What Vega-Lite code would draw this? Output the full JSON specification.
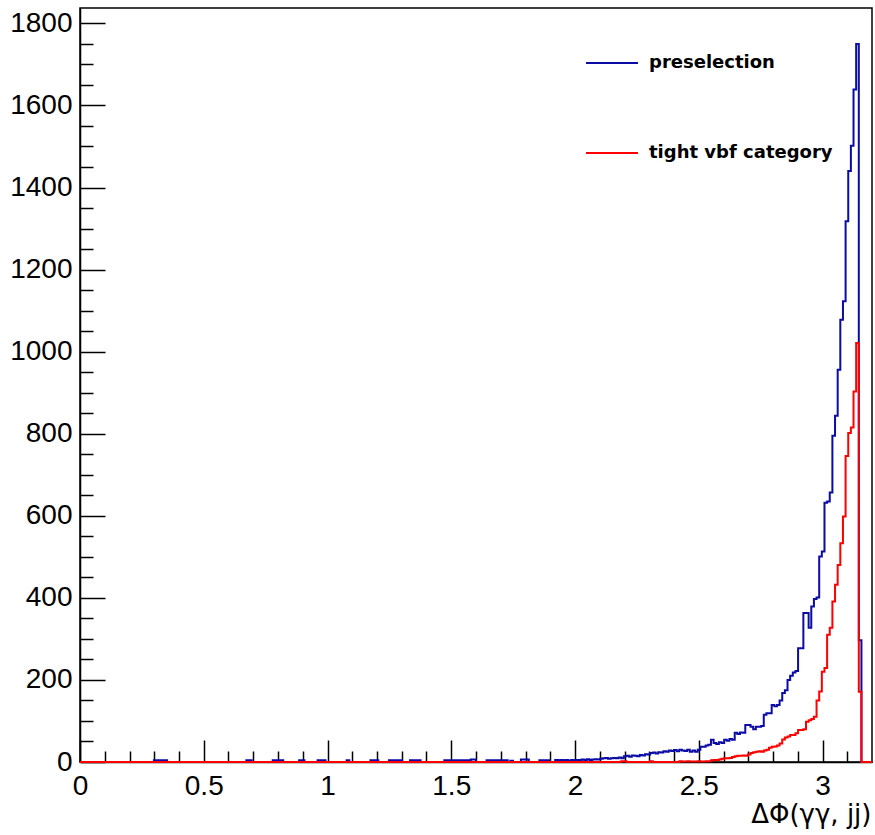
{
  "$schema": "https://vega.github.io/schema/vega-lite/v6.json",
  "width": 792,
  "height": 754,
  "autosize": {"type": "none"},
  "padding": {"left": 80, "top": 8, "right": 3, "bottom": 73},
  "background": "white",
  "config": {
    "view": {"stroke": "#000000", "strokeWidth": 1.5},
    "axis": {"domainColor": "#000000", "domainWidth": 1.5, "tickColor": "#000000", "tickWidth": 1.5, "labelColor": "#000000", "titleColor": "#000000", "grid": false}
  },
  "data": {"values": [
    {"dphi": 0, "preselection": 0, "tight vbf category": 0},
    {"dphi": 0.29867, "preselection": 4, "tight vbf category": 0},
    {"dphi": 0.352, "preselection": 0, "tight vbf category": 0},
    {"dphi": 0.672, "preselection": 4, "tight vbf category": 0},
    {"dphi": 0.69333, "preselection": 0, "tight vbf category": 0},
    {"dphi": 0.77867, "preselection": 4, "tight vbf category": 0},
    {"dphi": 0.82133, "preselection": 0, "tight vbf category": 0},
    {"dphi": 0.88533, "preselection": 4, "tight vbf category": 0},
    {"dphi": 0.90667, "preselection": 0, "tight vbf category": 0},
    {"dphi": 0.96, "preselection": 4, "tight vbf category": 0},
    {"dphi": 0.992, "preselection": 0, "tight vbf category": 0},
    {"dphi": 1.07733, "preselection": 4, "tight vbf category": 0},
    {"dphi": 1.088, "preselection": 0, "tight vbf category": 0},
    {"dphi": 1.17333, "preselection": 4, "tight vbf category": 0},
    {"dphi": 1.20533, "preselection": 0, "tight vbf category": 0},
    {"dphi": 1.248, "preselection": 4, "tight vbf category": 0},
    {"dphi": 1.30133, "preselection": 0, "tight vbf category": 0},
    {"dphi": 1.33333, "preselection": 4, "tight vbf category": 0},
    {"dphi": 1.376, "preselection": 0, "tight vbf category": 0},
    {"dphi": 1.472, "preselection": 4, "tight vbf category": 0},
    {"dphi": 1.57867, "preselection": 6, "tight vbf category": 0},
    {"dphi": 1.6, "preselection": 0, "tight vbf category": 0},
    {"dphi": 1.64267, "preselection": 4, "tight vbf category": 0},
    {"dphi": 1.728, "preselection": 0, "tight vbf category": 0},
    {"dphi": 1.73867, "preselection": 3, "tight vbf category": 0},
    {"dphi": 1.74933, "preselection": 0, "tight vbf category": 0},
    {"dphi": 1.78133, "preselection": 6, "tight vbf category": 0},
    {"dphi": 1.81333, "preselection": 0, "tight vbf category": 0},
    {"dphi": 1.856, "preselection": 4, "tight vbf category": 0},
    {"dphi": 1.89867, "preselection": 0, "tight vbf category": 0},
    {"dphi": 1.92, "preselection": 5, "tight vbf category": 0},
    {"dphi": 1.93067, "preselection": 4, "tight vbf category": 0},
    {"dphi": 1.94133, "preselection": 5, "tight vbf category": 0},
    {"dphi": 1.952, "preselection": 4, "tight vbf category": 0},
    {"dphi": 1.96267, "preselection": 5, "tight vbf category": 0},
    {"dphi": 1.97333, "preselection": 3, "tight vbf category": 0},
    {"dphi": 1.984, "preselection": 5, "tight vbf category": 0},
    {"dphi": 1.99467, "preselection": 4, "tight vbf category": 0},
    {"dphi": 2.00533, "preselection": 5, "tight vbf category": 0},
    {"dphi": 2.016, "preselection": 5, "tight vbf category": 0},
    {"dphi": 2.02667, "preselection": 6, "tight vbf category": 0},
    {"dphi": 2.03733, "preselection": 5, "tight vbf category": 0},
    {"dphi": 2.048, "preselection": 7, "tight vbf category": 0},
    {"dphi": 2.05867, "preselection": 5, "tight vbf category": 0},
    {"dphi": 2.06933, "preselection": 6, "tight vbf category": 0},
    {"dphi": 2.08, "preselection": 7, "tight vbf category": 0},
    {"dphi": 2.09067, "preselection": 6, "tight vbf category": 0},
    {"dphi": 2.10133, "preselection": 8, "tight vbf category": 0},
    {"dphi": 2.112, "preselection": 9, "tight vbf category": 0},
    {"dphi": 2.12267, "preselection": 10, "tight vbf category": 0},
    {"dphi": 2.13333, "preselection": 8, "tight vbf category": 0},
    {"dphi": 2.144, "preselection": 9, "tight vbf category": 0},
    {"dphi": 2.15467, "preselection": 10, "tight vbf category": 0},
    {"dphi": 2.16533, "preselection": 9, "tight vbf category": 0},
    {"dphi": 2.176, "preselection": 11, "tight vbf category": 0},
    {"dphi": 2.18667, "preselection": 9, "tight vbf category": 2},
    {"dphi": 2.19733, "preselection": 14, "tight vbf category": 2},
    {"dphi": 2.208, "preselection": 15, "tight vbf category": 0},
    {"dphi": 2.21867, "preselection": 13, "tight vbf category": 0},
    {"dphi": 2.22933, "preselection": 16, "tight vbf category": 0},
    {"dphi": 2.24, "preselection": 15, "tight vbf category": 0},
    {"dphi": 2.25067, "preselection": 14, "tight vbf category": 0},
    {"dphi": 2.26133, "preselection": 17, "tight vbf category": 0},
    {"dphi": 2.272, "preselection": 16, "tight vbf category": 0},
    {"dphi": 2.28267, "preselection": 19, "tight vbf category": 0},
    {"dphi": 2.29333, "preselection": 18, "tight vbf category": 0},
    {"dphi": 2.304, "preselection": 22, "tight vbf category": 2},
    {"dphi": 2.31467, "preselection": 23, "tight vbf category": 0},
    {"dphi": 2.32533, "preselection": 21, "tight vbf category": 0},
    {"dphi": 2.336, "preselection": 24, "tight vbf category": 0},
    {"dphi": 2.34667, "preselection": 23, "tight vbf category": 0},
    {"dphi": 2.35733, "preselection": 26, "tight vbf category": 0},
    {"dphi": 2.368, "preselection": 25, "tight vbf category": 0},
    {"dphi": 2.37867, "preselection": 28, "tight vbf category": 0},
    {"dphi": 2.38933, "preselection": 27, "tight vbf category": 0},
    {"dphi": 2.4, "preselection": 29, "tight vbf category": 0},
    {"dphi": 2.41067, "preselection": 26, "tight vbf category": 0},
    {"dphi": 2.42133, "preselection": 30, "tight vbf category": 2},
    {"dphi": 2.432, "preselection": 28, "tight vbf category": 1},
    {"dphi": 2.44267, "preselection": 27, "tight vbf category": 1},
    {"dphi": 2.45333, "preselection": 30, "tight vbf category": 2},
    {"dphi": 2.464, "preselection": 25, "tight vbf category": 1},
    {"dphi": 2.47467, "preselection": 28, "tight vbf category": 1},
    {"dphi": 2.48533, "preselection": 25, "tight vbf category": 1},
    {"dphi": 2.496, "preselection": 30, "tight vbf category": 2},
    {"dphi": 2.50667, "preselection": 37, "tight vbf category": 1},
    {"dphi": 2.51733, "preselection": 37, "tight vbf category": 1},
    {"dphi": 2.528, "preselection": 40, "tight vbf category": 2},
    {"dphi": 2.53867, "preselection": 42, "tight vbf category": 2},
    {"dphi": 2.54933, "preselection": 54, "tight vbf category": 4},
    {"dphi": 2.56, "preselection": 46, "tight vbf category": 5},
    {"dphi": 2.57067, "preselection": 44, "tight vbf category": 5},
    {"dphi": 2.58133, "preselection": 48, "tight vbf category": 6},
    {"dphi": 2.592, "preselection": 46, "tight vbf category": 8},
    {"dphi": 2.60267, "preselection": 54, "tight vbf category": 9},
    {"dphi": 2.61333, "preselection": 52, "tight vbf category": 9},
    {"dphi": 2.624, "preselection": 56, "tight vbf category": 10},
    {"dphi": 2.63467, "preselection": 54, "tight vbf category": 12},
    {"dphi": 2.64533, "preselection": 71, "tight vbf category": 14},
    {"dphi": 2.656, "preselection": 68, "tight vbf category": 15},
    {"dphi": 2.66667, "preselection": 72, "tight vbf category": 15},
    {"dphi": 2.67733, "preselection": 71, "tight vbf category": 16},
    {"dphi": 2.688, "preselection": 90, "tight vbf category": 15},
    {"dphi": 2.69867, "preselection": 90, "tight vbf category": 18},
    {"dphi": 2.70933, "preselection": 86, "tight vbf category": 22},
    {"dphi": 2.72, "preselection": 80, "tight vbf category": 24},
    {"dphi": 2.73067, "preselection": 86, "tight vbf category": 25},
    {"dphi": 2.74133, "preselection": 86, "tight vbf category": 26},
    {"dphi": 2.752, "preselection": 88, "tight vbf category": 25},
    {"dphi": 2.76267, "preselection": 115, "tight vbf category": 28},
    {"dphi": 2.77333, "preselection": 119, "tight vbf category": 30},
    {"dphi": 2.784, "preselection": 119, "tight vbf category": 35},
    {"dphi": 2.79467, "preselection": 139, "tight vbf category": 37},
    {"dphi": 2.80533, "preselection": 136, "tight vbf category": 38},
    {"dphi": 2.816, "preselection": 139, "tight vbf category": 40},
    {"dphi": 2.82667, "preselection": 150, "tight vbf category": 45},
    {"dphi": 2.83733, "preselection": 168, "tight vbf category": 55},
    {"dphi": 2.848, "preselection": 175, "tight vbf category": 60},
    {"dphi": 2.85867, "preselection": 200, "tight vbf category": 62},
    {"dphi": 2.86933, "preselection": 210, "tight vbf category": 66},
    {"dphi": 2.88, "preselection": 218, "tight vbf category": 66},
    {"dphi": 2.89067, "preselection": 222, "tight vbf category": 70},
    {"dphi": 2.90133, "preselection": 277, "tight vbf category": 78},
    {"dphi": 2.912, "preselection": 277, "tight vbf category": 78},
    {"dphi": 2.92267, "preselection": 363, "tight vbf category": 80},
    {"dphi": 2.93333, "preselection": 363, "tight vbf category": 98},
    {"dphi": 2.944, "preselection": 327, "tight vbf category": 102},
    {"dphi": 2.95467, "preselection": 379, "tight vbf category": 105},
    {"dphi": 2.96533, "preselection": 397, "tight vbf category": 110},
    {"dphi": 2.976, "preselection": 401, "tight vbf category": 150},
    {"dphi": 2.98667, "preselection": 501, "tight vbf category": 172},
    {"dphi": 2.99733, "preselection": 513, "tight vbf category": 220},
    {"dphi": 3.008, "preselection": 632, "tight vbf category": 229},
    {"dphi": 3.01867, "preselection": 635, "tight vbf category": 310},
    {"dphi": 3.02933, "preselection": 657, "tight vbf category": 327},
    {"dphi": 3.04, "preselection": 795, "tight vbf category": 391},
    {"dphi": 3.05067, "preselection": 844, "tight vbf category": 432},
    {"dphi": 3.06133, "preselection": 956, "tight vbf category": 480},
    {"dphi": 3.072, "preselection": 1078, "tight vbf category": 533},
    {"dphi": 3.08267, "preselection": 1123, "tight vbf category": 598},
    {"dphi": 3.09333, "preselection": 1318, "tight vbf category": 746},
    {"dphi": 3.104, "preselection": 1440, "tight vbf category": 802},
    {"dphi": 3.11467, "preselection": 1502, "tight vbf category": 815},
    {"dphi": 3.12533, "preselection": 1639, "tight vbf category": 903},
    {"dphi": 3.136, "preselection": 1750, "tight vbf category": 1021},
    {"dphi": 3.14667, "preselection": 297, "tight vbf category": 171},
    {"dphi": 3.15733, "preselection": 0, "tight vbf category": 0},
    {"dphi": 3.2, "preselection": 0, "tight vbf category": 0}
  ]},
  "transform": [
    {"fold": ["preselection", "tight vbf category"], "as": ["series", "events"]}
  ],
  "layer": [
    {
      "mark": {"type": "line", "interpolate": "step-after", "opacity": 0},
      "encoding": {
        "x": {"field": "dphi", "type": "quantitative", "scale": {"domain": [0, 3.2], "nice": false},
          "axis": {"orient": "bottom", "values": [0.1, 0.2, 0.3, 0.4, 0.6, 0.7, 0.8, 0.9, 1.1, 1.2, 1.3, 1.4, 1.6, 1.7, 1.8, 1.9, 2.1, 2.2, 2.3, 2.4, 2.6, 2.7, 2.8, 2.9, 3.1], "tickSize": -11, "labels": false, "domain": false, "title": null}},
        "y": {"field": "events", "type": "quantitative", "scale": {"domain": [0, 1837.5], "nice": false},
          "axis": {"orient": "left", "values": [50, 100, 150, 250, 300, 350, 450, 500, 550, 650, 700, 750, 850, 900, 950, 1050, 1100, 1150, 1250, 1300, 1350, 1450, 1500, 1550, 1650, 1700, 1750], "tickSize": -13, "labels": false, "domain": false, "title": null}},
        "detail": {"field": "series"}
      }
    },
    {
      "mark": {"type": "line", "interpolate": "step-after", "strokeWidth": 2, "strokeJoin": "miter", "strokeCap": "butt"},
      "encoding": {
        "x": {"field": "dphi", "type": "quantitative", "scale": {"domain": [0, 3.2], "nice": false},
          "axis": {"orient": "bottom", "values": [0, 0.5, 1, 1.5, 2, 2.5, 3], "format": "~g", "tickSize": -22, "labelPadding": 32, "labelFont": "Liberation Sans", "labelFontSize": 28, "labelFlush": false,
            "title": "ΔΦ(γγ, jj)", "titleFont": "DejaVu Sans", "titleFontSize": 26, "titleFontWeight": "normal", "titleAnchor": "end", "titleAlign": "right", "titleX": 791, "titleY": 60, "titleBaseline": "alphabetic"}},
        "y": {"field": "events", "type": "quantitative", "scale": {"domain": [0, 1837.5], "nice": false},
          "axis": {"orient": "left", "values": [0, 200, 400, 600, 800, 1000, 1200, 1400, 1600, 1800], "format": "d", "tickSize": -25, "labelPadding": 33, "labelFont": "Liberation Sans", "labelFontSize": 28, "labelFlush": false, "title": null}},
        "color": {"field": "series", "type": "nominal",
          "scale": {"domain": ["preselection", "tight vbf category"], "range": ["#0b0ba6", "#ff0000"]},
          "legend": {"orient": "none", "legendX": 505, "legendY": 28, "title": null, "symbolType": "stroke", "symbolSize": 2704, "symbolStrokeWidth": 2, "labelFont": "DejaVu Sans", "labelFontWeight": "bold", "labelFontSize": 18, "labelColor": "#000000", "labelOffset": 10, "labelLimit": 400, "rowPadding": 54, "padding": 0}}
      }
    }
  ],
  "resolve": {"axis": {"x": "independent", "y": "independent"}}
}
